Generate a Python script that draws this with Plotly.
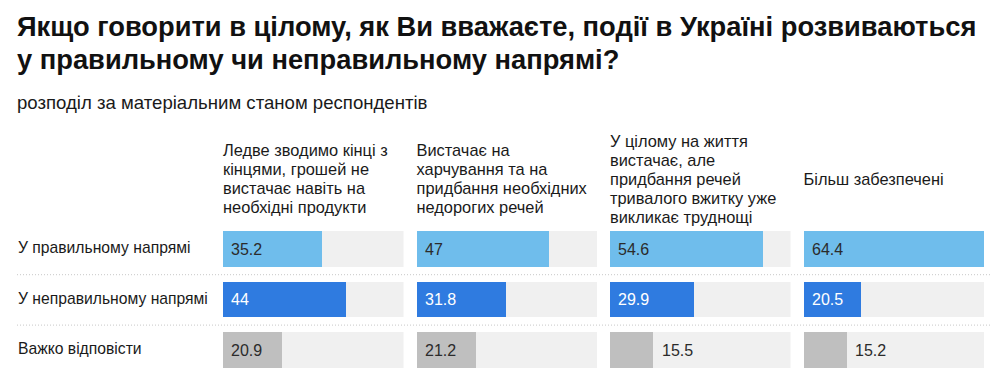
import unicodedata
import plotly.graph_objects as go

# ---- data ----
VYSTACHAIE = "\u0432\u0438\u0441\u0442\u0430\u0447\u0430\u0454"  # "вистачає"
groups = [
    ["Ледве зводимо кінці з", "кінцями, грошей не", VYSTACHAIE + " навіть на", "необхідні продукти"],
    ["Вистачає на", "харчування та на", "придбання необхідних", "недорогих речей"],
    ["У цілому на життя", VYSTACHAIE + ", але", "придбання речей", "тривалого вжитку уже", "викликає труднощі"],
    ["Більш забезпечені"],
]
answers = ["У правильному напрямі", "У неправильному напрямі", "Важко відповісти"]
right_dir = [35.2, 47, 54.6, 64.4]
wrong_dir = [44, 31.8, 29.9, 20.5]
hard_say = [20.9, 21.2, 15.5, 15.2]

series = [right_dir, wrong_dir, hard_say]
bar_colors = ["#6fbdec", "#2f7be0", "#bfbfbf"]
label_colors = ["#2b2b2b", "#ffffff", "#2b2b2b"]
track_color = "#f0f0f0"

title_lines = [
    "Якщо говорити в цілому, як Ви вважаєте, події в Україні розвиваються",
    "у правильному чи неправильному напрямі?",
]
subtitle = "розподіл за матеріальним станом респондентів"


def clean(s):
    s = "".join(ch for ch in s if unicodedata.category(ch)[0] != "C")
    return " ".join(s.split())


# ---- layout geometry (window pixels; page body has an 8px margin) ----
OFF = 8
WIN_W, WIN_H = 1001, 381
W, H = WIN_W - OFF, WIN_H - OFF
FONT = "Liberation Sans, Arial, Helvetica, sans-serif"
TXT = "#1a1a1a"


def px(x):
    return (x - OFF) / W


def py(y):
    return 1 - (y - OFF) / H


xmax = max(max(s) for s in series)

panel_left = [223, 416.5, 610, 803.5]
panel_w = 180.5
row_top, row_bot = 224.3, 375.5
bar_w = 0.704
head_center, head_step = 180.5, 19

fig = go.Figure()
for i in range(4):
    xa = "x" if i == 0 else f"x{i+1}"
    ya = "y" if i == 0 else f"y{i+1}"
    fig.add_trace(go.Bar(
        x=[xmax] * 3, y=list(range(3)), orientation="h", width=bar_w,
        marker=dict(color=track_color, line=dict(width=0)),
        xaxis=xa, yaxis=ya, hoverinfo="skip", showlegend=False))
    vals = [s[i] for s in series]
    fig.add_trace(go.Bar(
        x=vals, y=list(range(3)), orientation="h", width=bar_w,
        marker=dict(color=bar_colors, line=dict(width=0)),
        xaxis=xa, yaxis=ya, showlegend=False))
    for r, v in enumerate(vals):
        outside = v < 18
        fig.add_annotation(
            x=v if outside else 0, y=r, xref=xa, yref=ya,
            text=f"{v:g}", showarrow=False, xanchor="left", yanchor="middle",
            align="left", xshift=7 if outside else 6,
            font=dict(family=FONT, size=16,
                      color="#2b2b2b" if outside else label_colors[r]))
    xkey = "xaxis" if i == 0 else f"xaxis{i+1}"
    ykey = "yaxis" if i == 0 else f"yaxis{i+1}"
    fig.update_layout(**{
        xkey: dict(domain=[px(panel_left[i]), px(panel_left[i] + panel_w)],
                   range=[0, xmax], visible=False, fixedrange=True, anchor=ya),
        ykey: dict(domain=[py(row_bot), py(row_top)], range=[2.5, -0.5],
                   visible=False, anchor=xa, fixedrange=True),
    })

fig.update_layout(
    xaxis5=dict(domain=[0, 1], range=[OFF, WIN_W], visible=False,
                fixedrange=True, anchor="y5"),
    yaxis5=dict(domain=[0, 1], range=[WIN_H, OFF], visible=False,
                fixedrange=True, anchor="x5"),
)


def text_trace(xs, ys, texts, size, weight="normal", color=TXT):
    fig.add_trace(go.Scatter(
        x=xs, y=ys, text=[clean(t) for t in texts], mode="text",
        textposition="middle right",
        textfont=dict(family=FONT, size=size, color=color, weight=weight),
        xaxis="x5", yaxis="y5", cliponaxis=False, hoverinfo="skip",
        showlegend=False))


hx, hy, ht = [], [], []
for i, lines in enumerate(groups):
    n = len(lines)
    for k, line in enumerate(lines):
        hx.append(panel_left[i])
        hy.append(head_center + (k - (n - 1) / 2) * head_step)
        ht.append(line)
text_trace(hx, hy, ht, 16.4)

row_centers = [row_top + (row_bot - row_top) * (r + 0.5) / len(answers)
               for r in range(len(answers))]
text_trace([18] * len(answers), row_centers, answers, 15.7)

text_trace([17] * len(title_lines), [29 + 33.5 * k for k in range(len(title_lines))],
           title_lines, 27.3, weight="bold", color="#111111")
text_trace([17], [104.5], [subtitle], 18.6)

for r in range(len(answers) - 1):
    fig.add_shape(type="line", xref="paper", yref="y",
                  x0=px(17), x1=px(990), y0=r + 0.5, y1=r + 0.5,
                  line=dict(color="#c8c8c8", width=1, dash="1px,2px"))

fig.update_layout(
    width=W, height=H, margin=dict(l=0, r=0, t=0, b=0),
    paper_bgcolor="#ffffff", plot_bgcolor="rgba(0,0,0,0)",
    barmode="overlay", bargap=0, showlegend=False,
)

fig.write_html("out.html", config={"displayModeBar": False})
